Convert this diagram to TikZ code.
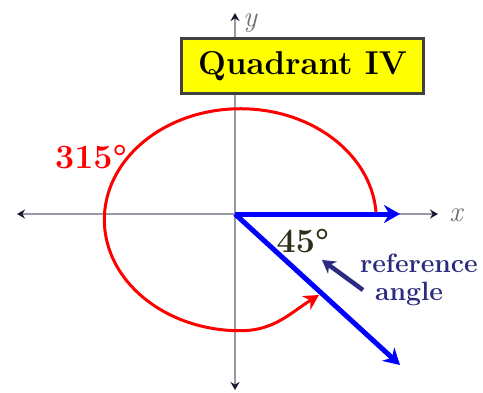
\documentclass[tikz,border=0pt]{standalone}
\usepackage{fontspec}
\usetikzlibrary{arrows.meta,calc}
\usepackage{tkz-euclide}
\definecolor{AxisClr}{rgb}{0.6,0.6,0.65}
\definecolor{TipClr}{rgb}{0.1,0.1,0.2}
\definecolor{RayClr}{rgb}{0,0,1}
\definecolor{ArcClr}{rgb}{1,0,0}
\definecolor{RefClr}{rgb}{0.17,0.17,0.5}
\definecolor{AngClr}{rgb}{0.18,0.18,0.1}
\definecolor{BoxClr}{rgb}{1,1,0}
\definecolor{BorderClr}{rgb}{0.25,0.25,0.25}

\begin{document}
\begin{tikzpicture}[x=1pt,y=1pt,
  axis/.style={line width=2pt,color=AxisClr,
    {Stealth[color=TipClr,length=8pt,width=9pt]}-{Stealth[color=TipClr,length=8pt,width=9pt]}},
  ray/.style={line width=5pt,color=RayClr,-{Stealth[length=16pt,width=18pt]}},
  arcline/.style={line width=3pt,color=ArcClr,-{Stealth[length=15pt,width=16pt]}},
  refarrow/.style={line width=4.5pt,color=RefClr,-{Stealth[length=13pt,width=15pt]}},
  axlabel/.style={text=AxisClr!70!black,font=\itshape\fontsize{29}{30}\selectfont,inner sep=0pt},
  deglabel/.style={font=\bfseries\fontsize{34}{36}\selectfont,inner sep=0pt},
  reftxt/.style={text=RefClr,font=\bfseries\fontsize{26.5}{30}\selectfont,inner sep=0pt}]
\useasboundingbox (-235,-178) rectangle (248,214);

\tkzDefPoints{0/0/O,-218/0/Xl,203/0/Xr,0/-176/Yd,0/201/Yu}
\tkzDefPoints{165/0/A,165/-151/B,141/2/S,84/-81/R,128/-76/T,87/-46/U}

% axes
\draw[axis] (Xl) -- (Xr);
\draw[axis] (Yd) -- (Yu);
\node[axlabel] (xlab) at (221,-1) {x};
\node[axlabel] (ylab) at (15,191) {y};

% title box
\node[draw=BorderClr,line width=3pt,fill=BoxClr,minimum width=242pt,minimum height=55pt,
  font=\bfseries\fontsize{33}{36}\selectfont] (quad) at (67.5,148) {Quadrant IV};

% 315 degrees
\draw[arcline] (S) arc[start angle=4,end angle=270,x radius=136,y radius=111]
  to[out=0,in=212] (R);

% terminal side and reference angle
\draw[ray] (O) -- (A);
\draw[ray] (O) -- (B);
\draw[refarrow] (T) -- (U);

\node[deglabel,text=ArcClr] (big) at (-144,57) {315°};
\node[deglabel,text=AngClr] (small) at (68,-27) {45°};
\node[reftxt] (ref1) at (184,-49) {reference};
\node[reftxt] (ref2) at (174,-80) {angle};

\end{tikzpicture}
\end{document}
